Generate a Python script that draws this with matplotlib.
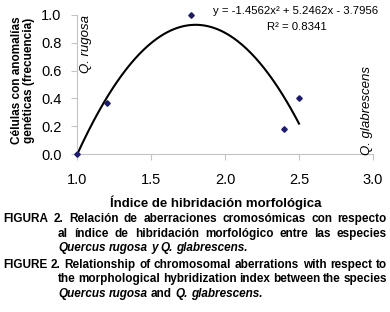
import numpy as np
import matplotlib
matplotlib.use('Agg')
import matplotlib.pyplot as plt

plt.rcParams['font.family'] = ['Liberation Sans', 'DejaVu Sans']

# data
hybrid_index = [1.0, 1.2, 1.77, 2.4, 2.5]
anomaly_freq = [0.0, 0.37, 1.0, 0.18, 0.40]
trend_coef = [-1.4562, 5.2462, -3.7956]   # printed trendline equation
trend_range = [1.0, 2.5]
x_ticks = [1.0, 1.5, 2.0, 2.5, 3.0]
y_ticks = [0.0, 0.2, 0.4, 0.6, 0.8, 1.0]

W, H = 390, 312
fig = plt.figure(figsize=(W / 100, H / 100), dpi=100)


def fx(px):
    return px / W


def fy(py):
    return 1 - py / H


ax = fig.add_axes([fx(77), fy(154), fx(373) - fx(77), fy(15) - fy(154)])

xs = np.linspace(trend_range[0], trend_range[1], 200)
ax.plot(xs, np.polyval(trend_coef, xs), color='black', lw=1.5, zorder=2)
ax.plot(hybrid_index, anomaly_freq, 'D', color='#1c1c6b', ms=2.8,
        zorder=3, clip_on=False)

ax.set_xlim(1.0, 3.0)
ax.set_ylim(0.0, 1.0)
ax.set_xticks(x_ticks)
ax.set_yticks(y_ticks)
ax.xaxis.set_major_formatter(plt.FormatStrFormatter('%.1f'))
ax.yaxis.set_major_formatter(plt.FormatStrFormatter('%.1f'))
for s in ['top', 'right']:
    ax.spines[s].set_visible(False)
for s in ['left', 'bottom']:
    ax.spines[s].set_color('#c4c4c4')
    ax.spines[s].set_linewidth(0.8)
ax.tick_params(axis='both', color='#c4c4c4', length=4, width=0.8,
               labelsize=10.5, labelcolor='black')
ax.tick_params(axis='x', pad=10)
ax.tick_params(axis='y', pad=7)

ax.text(1.06, 1.0, 'Q. rugosa', rotation=90, style='italic', fontsize=9.5,
        ha='center', va='top', transform=ax.transData)
fig.text(fx(367), fy(155), 'Q. glabrescens', rotation=90, style='italic',
         fontsize=9.5, ha='center', va='bottom')

fig.text(fx(378), fy(11), 'y = -1.4562x² + 5.2462x - 3.7956', fontsize=8.2,
         ha='right', va='center')
fig.text(fx(297), fy(27), 'R² = 0.8341', fontsize=8.2, ha='center', va='center')

fig.text(fx(23), fy(80), 'Células con anomalías\ngenéticas (frecuencia)',
         rotation=90, fontsize=8.5, fontweight='bold', ha='center',
         va='center', linespacing=1.1)
fig.text(fx(216), fy(203), 'Índice de hibridación morfológica', fontsize=9.5,
         fontweight='bold', ha='center', va='center')

caption_lines = [
    (3, 219, [("FIGURA 2. Relación de aberraciones cromosómicas con respecto", False)], True),
    (58, 234, [("al índice de hibridación morfológico entre las especies", False)], True),
    (58, 248, [("Quercus rugosa y Q. glabrescens.", True)], False),
    (3, 265, [("FIGURE 2. Relationship of chromosomal aberrations with respect to", False)], True),
    (58, 279, [("the morphological hybridization index between the species", False)], True),
    (58, 294, [("Quercus rugosa", True), ("and", False), ("Q. glabrescens.", True)], False),
]
cap_size = 8.5
x_right = 387
renderer = fig.canvas.get_renderer()
space = fig.text(0, 0, 'a a', fontsize=cap_size, fontweight='bold')
aa = fig.text(0, 0, 'aa', fontsize=cap_size, fontweight='bold')
space_w = (space.get_window_extent(renderer).width
           - aa.get_window_extent(renderer).width)
space.remove()
aa.remove()

for x0, y0, segs, justify in caption_lines:
    words = []
    for txt, ital in segs:
        for w in txt.split():
            t = fig.text(0, fy(y0), w, fontsize=cap_size, fontweight='bold',
                         style='italic' if ital else 'normal', va='center')
            words.append(t)
    widths = [t.get_window_extent(renderer).width for t in words]
    if justify and len(words) > 1:
        gap = (x_right - x0 - sum(widths)) / (len(words) - 1)
    else:
        gap = space_w
    x = x0
    for t, w in zip(words, widths):
        t.set_x(fx(x))
        x += w + gap

fig.savefig('out.png', dpi=100)
